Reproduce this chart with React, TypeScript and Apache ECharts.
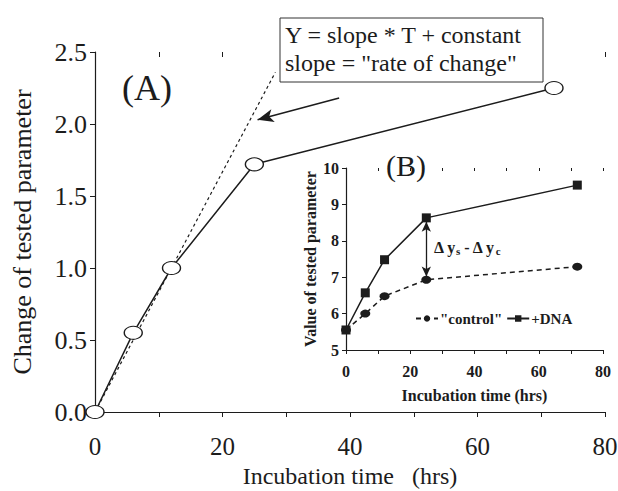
import React, { useEffect, useRef } from "react";
import * as echarts from "echarts";

// Panel (A)
const mainTime = [0, 6, 12, 25, 72];
const mainChange = [0, 0.55, 1.0, 1.72, 2.25];
const slopeTime = [0, 28.3];
const slopeValue = [0, 2.36];
const mainYTicks = [0, 0.5, 1.0, 1.5, 2.0, 2.5];
const timeTicks = [0, 20, 40, 60, 80];

// Panel (B)
const insetTime = [0, 6, 12, 25, 72];
const dnaValues = [5.55, 6.57, 7.48, 8.63, 9.53];
const controlValues = [5.55, 6.0, 6.48, 6.93, 7.29];
const insetYTicks = [5, 6, 7, 8, 9, 10];
const deltaTime = 25;
const deltaRange = [8.52, 7.02];

const FONT = "'Liberation Serif', 'DejaVu Serif', serif";
const INK = "#1c1c1c";

export default function App() {
  const ref = useRef<HTMLDivElement>(null);
  useEffect(() => {
    if (!ref.current) return;
    const chart = echarts.init(ref.current, null, { renderer: "svg" });
    const tMin = timeTicks[0];
    const tMax = timeTicks[timeTicks.length - 1];
    const axisCommon = {
      axisLine: { show: true, lineStyle: { color: INK, width: 1.2 } },
      axisTick: { show: true, inside: false, length: 5, lineStyle: { color: INK } },
      splitLine: { show: false },
    };
    const overlay = (extra: any) => ({
      type: "value",
      axisLine: { show: false },
      axisLabel: { show: false },
      splitLine: { show: false },
      ...extra,
    });
    chart.setOption({
      animation: false,
      backgroundColor: "#ffffff",
      textStyle: { fontFamily: FONT, color: INK },
      grid: [
        { left: 95, right: 13, top: 52, bottom: 79, containLabel: false, outerBoundsMode: "none" },
        { left: 346, right: 15, top: 168, bottom: 141, containLabel: false, outerBoundsMode: "none" },
      ],
      xAxis: [
        {
          gridIndex: 0,
          type: "value",
          min: tMin,
          max: tMax,
          interval: 20,
          ...axisCommon,
          minorTick: { show: true, splitNumber: 2, length: 5, lineStyle: { color: INK } },
          axisLabel: { fontFamily: FONT, fontSize: 25, color: INK, margin: 22 },
          name: "Incubation time   (hrs)",
          nameLocation: "middle",
          nameGap: 51,
          nameTextStyle: { fontFamily: FONT, fontSize: 24, color: INK, lineHeight: 24 },
        },
        {
          gridIndex: 1,
          type: "value",
          min: tMin,
          max: tMax,
          interval: 20,
          ...axisCommon,
          axisTick: { show: true, length: 4, lineStyle: { color: INK } },
          minorTick: { show: true, splitNumber: 2, length: 4, lineStyle: { color: INK } },
          axisLabel: { fontFamily: FONT, fontSize: 16, fontWeight: "bold", color: INK, margin: 13 },
          name: "Incubation time (hrs)",
          nameLocation: "middle",
          nameGap: 37,
          nameTextStyle: { fontFamily: FONT, fontSize: 16, fontWeight: "bold", color: INK },
        },
        overlay({
          gridIndex: 0,
          min: tMin,
          max: tMax,
          interval: 20,
          axisTick: { show: true, inside: true, length: 5, lineStyle: { color: INK } },
          minorTick: { show: true, splitNumber: 2, length: 5, lineStyle: { color: INK } },
        }),
        overlay({
          gridIndex: 1,
          min: tMin,
          max: tMax,
          interval: 20,
          axisTick: { show: true, inside: true, length: 3, lineStyle: { color: INK } },
          minorTick: { show: true, splitNumber: 2, length: 3, lineStyle: { color: INK } },
        }),
      ],
      yAxis: [
        {
          gridIndex: 0,
          type: "value",
          min: mainYTicks[0],
          max: mainYTicks[mainYTicks.length - 1],
          interval: 0.5,
          ...axisCommon,
          axisLabel: {
            fontFamily: FONT,
            fontSize: 26,
            color: INK,
            margin: 8,
            formatter: (v: number) => v.toFixed(1),
          },
          name: "Change of tested parameter",
          nameLocation: "middle",
          nameGap: 60,
          nameTextStyle: { fontFamily: FONT, fontSize: 26, color: INK },
        },
        {
          gridIndex: 1,
          type: "value",
          min: insetYTicks[0],
          max: insetYTicks[insetYTicks.length - 1],
          interval: 1,
          ...axisCommon,
          axisTick: { show: true, length: 4, lineStyle: { color: INK } },
          axisLabel: { fontFamily: FONT, fontSize: 16, fontWeight: "bold", color: INK, margin: 7 },
          name: "Value of tested parameter",
          nameLocation: "middle",
          nameGap: 28,
          nameTextStyle: { fontFamily: FONT, fontSize: 16, fontWeight: "bold", color: INK },
        },
        overlay({
          gridIndex: 1,
          min: insetYTicks[0],
          max: insetYTicks[insetYTicks.length - 1],
          interval: 1,
          axisTick: { show: true, inside: true, length: 3, lineStyle: { color: INK } },
        }),
      ],
      legend: {
        data: ['"control"', "+DNA"],
        left: 410,
        top: 306,
        itemWidth: 22,
        itemHeight: 8,
        itemGap: 4,
        textStyle: { fontFamily: FONT, fontSize: 15, fontWeight: "bold", color: INK, padding: [0, 0, 0, -3] },
      },
      series: [
        {
          name: "slope",
          type: "line",
          xAxisIndex: 0,
          yAxisIndex: 0,
          data: slopeTime.map((t, i) => [t, slopeValue[i]]),
          showSymbol: false,
          symbol: "none",
          lineStyle: { color: INK, width: 1.2, type: [3, 3] },
          z: 1,
        },
        {
          name: "change",
          type: "line",
          xAxisIndex: 0,
          yAxisIndex: 0,
          data: mainTime.map((t, i) => [t, mainChange[i]]),
          symbol: "circle",
          symbolSize: [18, 13],
          itemStyle: { color: "#ffffff", borderColor: INK, borderWidth: 1.2 },
          lineStyle: { color: INK, width: 1.5 },
          z: 3,
          markLine: {
            silent: true,
            animation: false,
            label: { show: false },
            lineStyle: { color: INK, width: 1.5, type: "solid" },
            symbolSize: [10, 16],
            data: [
              [
                { coord: [38.3, 2.18], symbol: "none" },
                { coord: [25.5, 2.03], symbol: "arrow" },
              ],
            ],
          },
        },
        {
          name: '"control"',
          type: "line",
          xAxisIndex: 1,
          yAxisIndex: 1,
          data: insetTime.map((t, i) => [t, controlValues[i]]),
          symbol: "circle",
          symbolSize: [10, 8],
          itemStyle: { color: INK },
          lineStyle: { color: INK, width: 1.5, type: [5, 4] },
          z: 3,
        },
        {
          name: "+DNA",
          type: "line",
          xAxisIndex: 1,
          yAxisIndex: 1,
          data: insetTime.map((t, i) => [t, dnaValues[i]]),
          symbol: "rect",
          symbolSize: 9,
          itemStyle: { color: INK },
          lineStyle: { color: INK, width: 1.5 },
          z: 4,
          markLine: {
            silent: true,
            animation: false,
            label: { show: false },
            lineStyle: { color: INK, width: 1.3, type: "solid" },
            symbol: ["arrow", "arrow"],
            symbolSize: [7, 10],
            data: [
              [
                { coord: [deltaTime, deltaRange[0]] },
                { coord: [deltaTime, deltaRange[1]] },
              ],
            ],
          },
        },
      ],
      graphic: [
        {
          type: "rect",
          shape: { x: 280, y: 18, width: 263, height: 64 },
          style: { fill: "#ffffff", stroke: "#333333", lineWidth: 1 },
          z: 10,
        },
        {
          type: "text",
          x: 285,
          y: 21,
          style: {
            text: 'Y = slope * T + constant\nslope = "rate of change"',
            font: `24px ${FONT}`,
            lineHeight: 28,
            fill: INK,
          },
          z: 11,
        },
        {
          type: "text",
          x: 122,
          y: 70,
          style: { text: "(A)", font: `36px ${FONT}`, fill: INK },
          z: 11,
        },
        {
          type: "text",
          x: 386,
          y: 150,
          style: { text: "(B)", font: `30px ${FONT}`, fill: INK },
          z: 11,
        },
        {
          type: "text",
          x: 434,
          y: 239,
          style: {
            text: "{a|Δ y}{s|s}{a| - Δ y}{s|c}",
            fill: INK,
            rich: {
              a: { fontFamily: FONT, fontSize: 16, fontWeight: "bold", fill: INK },
              s: { fontFamily: FONT, fontSize: 11, fontWeight: "bold", fill: INK, padding: [6, 0, 0, 0] },
            },
          },
          z: 11,
        },
      ],
    });
    return () => chart.dispose();
  }, []);
  return (
    <div
      ref={ref}
      style={{ position: "fixed", left: 0, top: 0, width: 618, height: 491 }}
    />
  );
}
